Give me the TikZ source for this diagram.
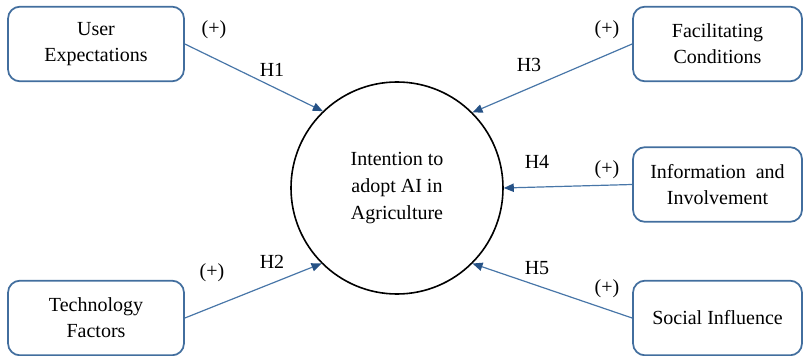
\documentclass[tikz,border=0pt]{standalone}
\usepackage{fontspec}
\setmainfont{Liberation Serif}
\usetikzlibrary{arrows.meta}
\definecolor{boxblue}{RGB}{66,110,158}
\definecolor{linkblue}{RGB}{72,118,168}
\definecolor{tipblue}{RGB}{38,82,134}
\begin{document}
\begin{tikzpicture}[x=0.75pt,y=-0.75pt,
  every node/.style={font=\fontsize{15}{19.5}\selectfont},
  factor/.style={draw=boxblue, line width=1.3pt, rounded corners=9pt,
    align=center, inner sep=0pt, minimum width=#1*0.75pt, minimum height=56pt},
  factor/.default=176,
  construct/.style={draw=black, line width=1.2pt, circle, minimum size=159pt,
    inner sep=0pt, align=center, font=\fontsize{15}{20}\selectfont},
  link/.style={draw=linkblue, line width=0.9pt,
    -{Triangle[length=7.5pt,width=6.5pt,fill=tipblue,line width=0pt]}},
  tag/.style={inner sep=0pt}
]
\useasboundingbox (0,0) rectangle (803,356);

% central construct
\node[construct] (c) at (397,188) {Intention to\\adopt AI in\\Agriculture};

% antecedent factors
\node[factor] (ue) at (96,44) {User\\Expectations};
\node[factor] (tf) at (96,318) {Technology\\Factors};
\node[factor=169] (fc) at (717.5,44) {Facilitating\\Conditions};
\node[factor=169] (ii) at (717.5,184.5) {Information \ and\\Involvement};
\node[factor=169] (si) at (717.5,318) {Social Influence};

% hypothesised paths
\draw[link] (ue.east) -- (c.134);
\draw[link] (tf.east) -- (c.225);
\draw[link] (fc.west) -- (c.45);
\draw[link] (ii.west) -- (c.0);
\draw[link] (si.west) -- (c.-45);

% path labels
\node[tag] (p1) at (214,30) {(+)};
\node[tag] (h1) at (272,70) {H1};
\node[tag] (p2) at (212,273) {(+)};
\node[tag] (h2) at (272,262) {H2};
\node[tag] (p3) at (607,30) {(+)};
\node[tag] (h3) at (529,65) {H3};
\node[tag] (p4) at (607,170) {(+)};
\node[tag] (h4) at (537,162) {H4};
\node[tag] (p5) at (607,289) {(+)};
\node[tag] (h5) at (537,268) {H5};
\end{tikzpicture}
\end{document}
